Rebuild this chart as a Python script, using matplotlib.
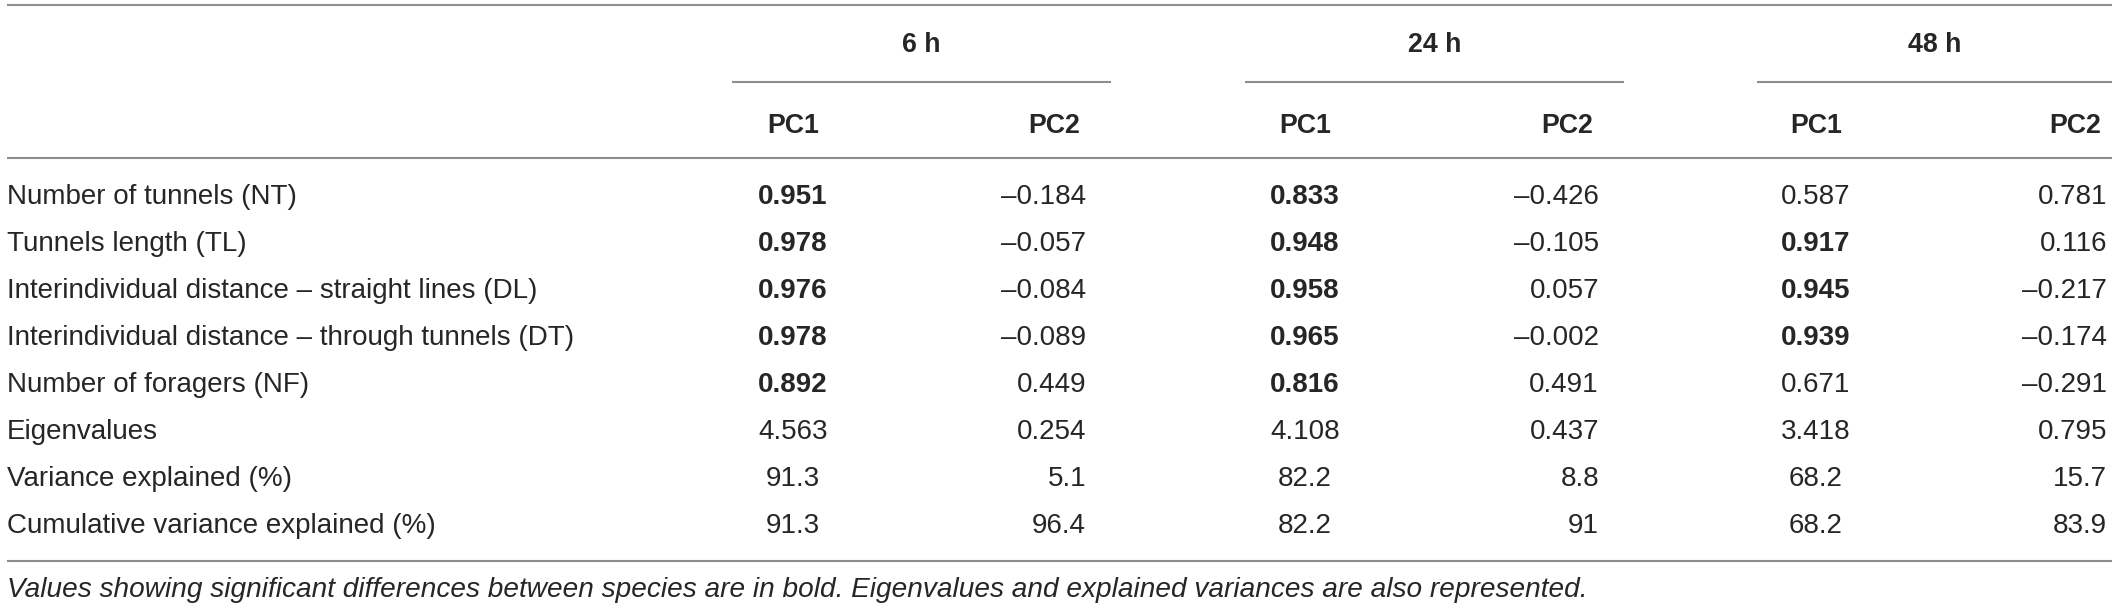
import matplotlib
matplotlib.use("Agg")
import matplotlib.pyplot as plt
from matplotlib import font_manager

# ---------------- data ----------------
row_labels = [
    "Number of tunnels (NT)",
    "Tunnels length (TL)",
    "Interindividual distance \u2013 straight lines (DL)",
    "Interindividual distance \u2013 through tunnels (DT)",
    "Number of foragers (NF)",
    "Eigenvalues",
    "Variance explained (%)",
    "Cumulative variance explained (%)",
]
group_labels = ["6 h", "24 h", "48 h"]
sub_labels = ["PC1", "PC2"]

pc1_6h = ["0.951", "0.978", "0.976", "0.978", "0.892", "4.563", "91.3", "91.3"]
pc2_6h = ["\u20130.184", "\u20130.057", "\u20130.084", "\u20130.089", "0.449", "0.254", "5.1", "96.4"]
pc1_24h = ["0.833", "0.948", "0.958", "0.965", "0.816", "4.108", "82.2", "82.2"]
pc2_24h = ["\u20130.426", "\u20130.105", "0.057", "\u20130.002", "0.491", "0.437", "8.8", "91"]
pc1_48h = ["0.587", "0.917", "0.945", "0.939", "0.671", "3.418", "68.2", "68.2"]
pc2_48h = ["0.781", "0.116", "\u20130.217", "\u20130.174", "\u20130.291", "0.795", "15.7", "83.9"]

bold_pc1_6h = [True, True, True, True, True, False, False, False]
bold_pc1_24h = [True, True, True, True, True, False, False, False]
bold_pc1_48h = [False, True, True, True, False, False, False, False]

footnote = ("Values showing significant differences between species are in bold. "
            "Eigenvalues and explained variances are also represented.")

# ---------------- layout ----------------
W, H = 2118, 609
fig = plt.figure(figsize=(W / 100, H / 100), dpi=100)
ax = fig.add_axes([0, 0, 1, 1])
ax.set_xlim(0, W)
ax.set_ylim(H, 0)
ax.axis("off")

avail = {f.name for f in font_manager.fontManager.ttflist}
font = "Liberation Sans" if "Liberation Sans" in avail else "DejaVu Sans"

txt_color = "#262626"
line_color = "#8e8e8e"
left, right = 7, 2112
renderer = fig.canvas.get_renderer()


def fit_size(s, target_w, **kw):
    t = ax.text(0, 0, s, fontsize=20, family=font, **kw)
    w = t.get_window_extent(renderer).width
    t.remove()
    return 20 * target_w / w


fs = fit_size(row_labels[3], 575 - left)
fs_foot = fit_size(footnote, 1579 - left, style="italic")
fs_head = fit_size("PC1", 52, fontweight="bold")

# horizontal rules
for y in (5, 158, 561):
    ax.plot([left, right], [y, y], color=line_color, lw=1.5, solid_capstyle="butt")

group_spans = [(732, 1111), (1245, 1624), (1757, 2112)]
pc1_centers = [793, 1305, 1816]
pc2_rights = [1084, 1597, 2105]

for (x0, x1), g in zip(group_spans, group_labels):
    ax.plot([x0, x1], [82, 82], color=line_color, lw=1.5, solid_capstyle="butt")
    ax.text((x0 + x1) / 2, 52, g, ha="center", va="baseline", fontsize=fs_head,
            fontweight="bold", family=font, color=txt_color)

for c, r in zip(pc1_centers, pc2_rights):
    ax.text(c, 133, sub_labels[0], ha="center", va="baseline", fontsize=fs_head,
            fontweight="bold", family=font, color=txt_color)
    ax.text(r - 4, 133, sub_labels[1], ha="right", va="baseline", fontsize=fs_head,
            fontweight="bold", family=font, color=txt_color)

row_base0, row_step = 204, 47
pc1_cols = [(pc1_6h, bold_pc1_6h), (pc1_24h, bold_pc1_24h), (pc1_48h, bold_pc1_48h)]
pc2_cols = [pc2_6h, pc2_24h, pc2_48h]

for i, lab in enumerate(row_labels):
    yb = row_base0 + i * row_step
    ax.text(left, yb, lab, ha="left", va="baseline", fontsize=fs,
            family=font, color=txt_color)
    for (vals, bolds), c in zip(pc1_cols, pc1_centers):
        ax.text(c, yb, vals[i], ha="center", va="baseline", fontsize=fs,
                family=font, fontweight="bold" if bolds[i] else "normal",
                color=txt_color)
    for vals, r in zip(pc2_cols, pc2_rights):
        ax.text(r + 2, yb, vals[i], ha="right", va="baseline", fontsize=fs,
                family=font, color=txt_color)

ax.text(left, 597, footnote, ha="left", va="baseline", fontsize=fs_foot,
        family=font, style="italic", color=txt_color)

fig.savefig("out.png", dpi=100, facecolor="white")
